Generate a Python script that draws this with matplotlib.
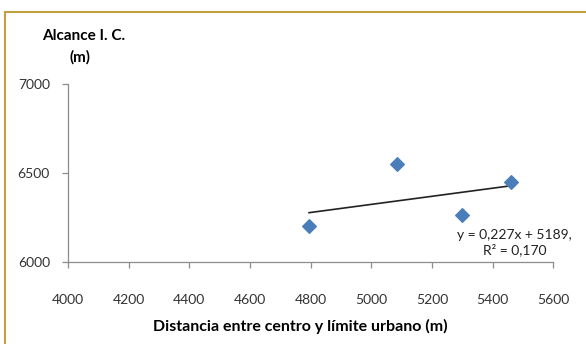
import numpy as np
import matplotlib.pyplot as plt
from matplotlib.lines import Line2D

# data
distancia = [4795, 5085, 5300, 5460]
alcance = [6205, 6550, 6265, 6450]
pendiente = 0.227
intercepto = 5189
eq_text = "y = 0,227x + 5189,\nR² = 0,170"

plt.rcParams['font.family'] = ['Lato', 'DejaVu Sans']

fig = plt.figure(figsize=(5.86, 3.44), dpi=100)
ax = fig.add_axes([0.116, 0.238, 0.828, 0.518])

# trendline
xt = np.array([min(distancia), max(distancia)])
ax.plot(xt, pendiente * xt + intercepto, color='#222222', lw=1.2, zorder=2)
ax.scatter(distancia, alcance, marker='D', s=48, color='#4a7ebb', zorder=3)

ax.set_xlim(4000, 5600)
ax.set_ylim(6000, 7000)
ax.set_xticks(np.arange(4000, 5601, 200))
ax.set_yticks([6000, 6500, 7000])

for s in ['top', 'right']:
    ax.spines[s].set_visible(False)
for s in ['left', 'bottom']:
    ax.spines[s].set_color('#8c8c8c')
    ax.spines[s].set_linewidth(0.9)
ax.tick_params(axis='both', colors='#8c8c8c', labelcolor='#333333', labelsize=10, length=4, width=0.9)
ax.tick_params(axis='x', pad=19)
ax.tick_params(axis='y', pad=9)

fig.text(0.976, 0.333, eq_text, ha='right', va='top', multialignment='center',
         fontsize=10, color='#222222', linespacing=1.2)

fig.text(0.143, 0.895, "Alcance I. C.", ha='center', va='center',
         fontsize=11, fontweight='bold')
fig.text(0.137, 0.834, "(m)", ha='center', va='center',
         fontsize=11, fontweight='bold')
fig.text(0.512, 0.05, "Distancia entre centro y límite urbano (m)", ha='center',
         va='center', fontsize=11.5, fontweight='bold')

# golden frame on top and left
fig.add_artist(Line2D([0.009, 0.009], [0.0, 0.965], transform=fig.transFigure, color='#c0a040', lw=1.5))
fig.add_artist(Line2D([0.009, 1.0], [0.965, 0.965], transform=fig.transFigure, color='#c0a040', lw=1.5))

fig.savefig('out.png', dpi=100)
